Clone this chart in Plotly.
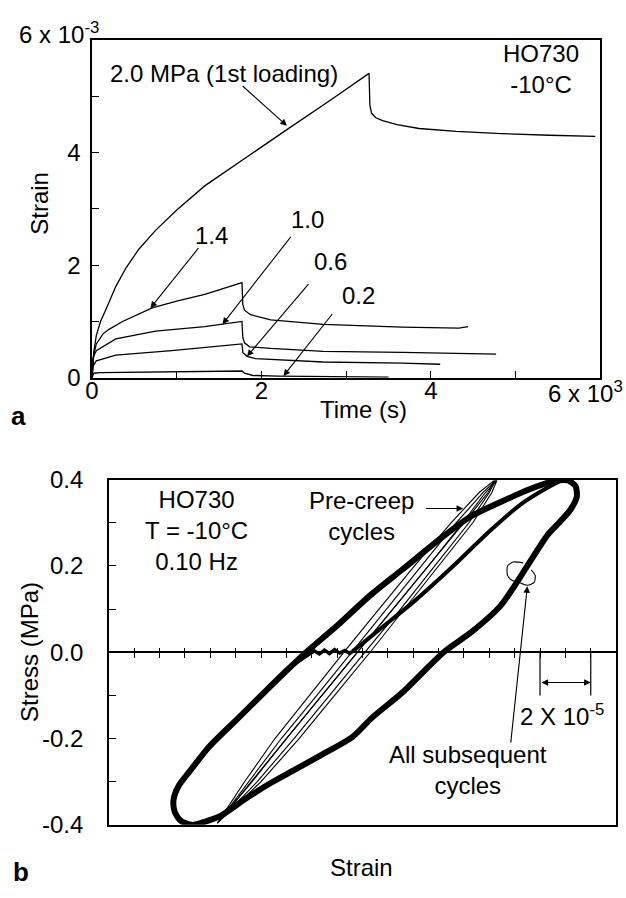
import plotly.graph_objects as go

FONT = "Liberation Sans, Arial, Helvetica, sans-serif"
FS = 24

# ---------------- panel a : creep strain vs time (t in 10^3 s, strain in 10^-3)
T20 = [0, 0.02, 0.05, 0.1, 0.16, 0.22, 0.28, 0.4, 0.55, 0.75, 1.0, 1.33, 1.8, 2.3, 2.8, 3.27,
       3.28, 3.3, 3.35, 3.43, 3.6, 3.86, 4.3, 4.83, 5.4, 5.94]
S20 = [0, 0.45, 0.75, 1.0, 1.2, 1.42, 1.62, 1.95, 2.28, 2.62, 2.98, 3.41, 3.9, 4.41, 4.92, 5.41,
       4.85, 4.7, 4.62, 4.57, 4.5, 4.43, 4.38, 4.34, 4.31, 4.29]
T14 = [0, 0.02, 0.05, 0.1, 0.13, 0.2, 0.36, 0.71, 1.0, 1.33, 1.77, 1.78, 1.8, 1.87, 2.11, 2.73, 3.66, 4.33, 4.44]
S14 = [0, 0.4, 0.6, 0.72, 0.78, 0.86, 1.0, 1.24, 1.36, 1.48, 1.69, 1.3, 1.2, 1.12, 1.03, 0.95, 0.9, 0.88, 0.91]
T10 = [0, 0.01, 0.05, 0.28, 0.75, 1.33, 1.77, 1.78, 1.8, 1.86, 2.11, 2.73, 3.66, 4.77]
S10 = [0, 0.35, 0.48, 0.69, 0.83, 0.91, 1.0, 0.72, 0.62, 0.55, 0.52, 0.47, 0.45, 0.42]
T06 = [0, 0.01, 0.05, 0.28, 0.94, 1.77, 1.78, 1.83, 1.93, 2.73, 3.66, 4.11]
S06 = [0, 0.2, 0.3, 0.4, 0.48, 0.6, 0.45, 0.38, 0.34, 0.28, 0.26, 0.24]
T02 = [0, 0.02, 0.1, 1.0, 1.77, 1.8, 1.9, 2.2, 2.6, 3.0, 3.5]
S02 = [0, 0.08, 0.09, 0.1, 0.12, 0.08, 0.04, 0.03, 0.02, 0.01, 0.01]

TOP_TICKVALS = [0, 1, 2, 3, 4, 5, 6]
TOP_X_TEXT = ["0", "", "2", "", "4", "", ""]
TOP_Y_TEXT = ["0", "", "2", "", "4", "", ""]

# ---------------- panel b : stress vs strain (strain in units of 10^-5, arbitrary origin)
LOOP_X = [3.27, 2.84, 2.6, 2.55, 2.75, 3.2, 3.97, 5.06, 6.11, 7.00,
          7.78, 9.03, 10.27, 11.56, 13.11, 14.28, 15.45, 16.61, 17.5, 18.1,
          18.4, 18.45, 18.2, 17.75, 17.3, 16.5, 15.45, 14.3, 13.2, 11.56,
          10.39, 9.61, 8.44, 7.28, 6.38, 5.33, 4.44, 3.77, 3.27]
LOOP_S = [-0.400, -0.391, -0.37, -0.342, -0.31, -0.275, -0.218, -0.155, -0.094, -0.043,
          0.0, 0.063, 0.130, 0.191, 0.265, 0.315, 0.348, 0.378, 0.396, 0.398,
          0.385, 0.36, 0.33, 0.3, 0.272, 0.2, 0.108, 0.047, 0.0, -0.094,
          -0.151, -0.196, -0.236, -0.274, -0.303, -0.342, -0.378, -0.393, -0.400]

RAMP_X = [9.61, 10.78, 12.06, 13.62, 15.06, 16.23, 17.2, 17.78]
RAMP_S = [0.002, 0.058, 0.119, 0.202, 0.283, 0.342, 0.378, 0.396]

REST_X = [6.89, 7.47, 7.94, 8.1, 8.3, 8.5, 8.7, 8.9, 9.1, 9.3, 9.5, 9.61]
REST_S = [-0.045, -0.022, -0.004, 0.003, -0.004, 0.005, -0.003, 0.006, -0.002, 0.004, -0.003, 0.002]

PRE_S = [-0.396, -0.3, -0.2, -0.1, 0.0, 0.1, 0.2, 0.3, 0.37, 0.398,
         0.37, 0.3, 0.2, 0.1, 0.0, -0.1, -0.2, -0.3, -0.396]
PRE_X1 = [4.28, 5.35, 6.55, 7.9, 9.27, 10.65, 12.05, 13.5, 14.6, 15.2,
          14.95, 14.0, 12.6, 11.2, 9.8, 8.4, 7.0, 5.65, 4.28]
PRE_X2 = [4.28, 5.5, 6.8, 8.2, 9.57, 10.95, 12.32, 13.7, 14.75, 15.25,
          15.0, 14.2, 12.85, 11.5, 10.1, 8.7, 7.3, 5.85, 4.28]
PRE_X3 = [4.28, 5.6, 7.0, 8.4, 9.8, 11.2, 12.6, 13.95, 14.85, 15.3,
          15.1, 14.35, 13.0, 11.65, 10.3, 8.9, 7.5, 6.0, 4.28]

BLIP_X = [16.34, 15.95, 15.72, 15.72, 15.91, 16.15, 16.50, 16.77, 16.81, 16.65]
BLIP_S = [0.207, 0.209, 0.200, 0.178, 0.166, 0.162, 0.155, 0.162, 0.178, 0.191]

BOT_Y_TICKVALS = [-0.4, -0.3, -0.2, -0.1, 0.0, 0.1, 0.2, 0.3, 0.4]
BOT_Y_TEXT = ["-0.4", "", "-0.2", "", "0.0", "", "0.2", "", "0.4"]
ZERO_TICKS = list(range(1, 20))

W, H = 626, 898

fig = go.Figure()


def line(x, y, w, xa="x", ya="y", shape="linear", color="black"):
    fig.add_trace(go.Scatter(x=x, y=y, mode="lines", xaxis=xa, yaxis=ya,
                             line=dict(color=color, width=w, shape=shape, smoothing=0.7),
                             hoverinfo="skip", showlegend=False))


for tx, sy in [(T20, S20), (T14, S14), (T10, S10), (T06, S06), (T02, S02)]:
    line(tx, sy, 1.3)

for px in [PRE_X1, PRE_X2, PRE_X3]:
    line(px, PRE_S, 1.1, "x2", "y2")
line(LOOP_X, LOOP_S, 6, "x2", "y2", shape="spline")
line(RAMP_X, RAMP_S, 4, "x2", "y2", shape="spline")
line(REST_X, REST_S, 3.5, "x2", "y2")
line(BLIP_X, BLIP_S, 1.1, "x2", "y2", shape="spline")
# dummy trace so the free tick axis on the zero line is drawn
fig.add_trace(go.Scatter(x=[None], y=[None], xaxis="x3", yaxis="y2", showlegend=False))


def px_x(p):
    return p / W


def px_y(p):
    return 1 - p / H


axis_common = dict(showgrid=False, zeroline=False, showline=True, mirror=True,
                   linecolor="black", linewidth=1.5, ticks="inside", ticklen=7,
                   tickwidth=1.3, tickcolor="black",
                   tickfont=dict(family=FONT, size=FS, color="black"))

fig.update_layout(
    width=W, height=H, margin=dict(l=0, r=0, t=0, b=0),
    paper_bgcolor="white", plot_bgcolor="white", showlegend=False,
    font=dict(family=FONT, size=FS, color="black"),
    xaxis=dict(domain=[px_x(86), px_x(600)], anchor="y", range=[0, 6],
               tickvals=TOP_TICKVALS, ticktext=TOP_X_TEXT, ticklabelstandoff=-9, **axis_common),
    yaxis=dict(domain=[px_y(375), px_y(27)], anchor="x", range=[0, 6],
               tickvals=TOP_TICKVALS, ticktext=TOP_Y_TEXT, ticklabelstandoff=5, **axis_common),
    xaxis2=dict(domain=[px_x(103), px_x(616)], anchor="y2", range=[0, 20],
                showticklabels=False, showgrid=False, zeroline=False, showline=True,
                mirror=True, linecolor="black", linewidth=1.5, ticks=""),
    yaxis2=dict(domain=[px_y(836), px_y(480)], anchor="x2", range=[-0.4, 0.4],
                tickvals=BOT_Y_TICKVALS, ticktext=BOT_Y_TEXT, ticklabelstandoff=19,
                **{**axis_common, "zeroline": True, "zerolinecolor": "black",
                   "zerolinewidth": 1.5}),
    xaxis3=dict(overlaying="x2", anchor="free", position=px_y(653), range=[0, 20],
                tickvals=ZERO_TICKS, ticks="outside", ticklen=10, tickwidth=1.3,
                tickcolor="black", showticklabels=False, showline=False,
                showgrid=False, zeroline=False),
)

ann = []


def text(x, y, t, xref="paper", yref="paper", xanchor="center", yanchor="middle",
         size=FS, angle=0, align="center"):
    ann.append(dict(x=x, y=y, xref=xref, yref=yref, text=t, showarrow=False,
                    xanchor=xanchor, yanchor=yanchor, textangle=angle, align=align,
                    font=dict(family=FONT, size=size, color="black")))


def arrow(x, y, ax, ay, xref="x", yref="y", side="end"):
    ann.append(dict(x=x, y=y, ax=ax, ay=ay, xref=xref, yref=yref, axref=xref, ayref=yref,
                    text="", showarrow=True, arrowhead=2, arrowsize=1.2, arrowwidth=1.1,
                    arrowcolor="black", arrowside=side, standoff=0, startstandoff=0))


# panel a texts
text(px_x(32), px_y(195), "Strain", angle=-90)
text(px_x(361), px_y(408), "Time (s)")
text(px_x(12), px_y(414), "<b>a</b>", size=26)
text(px_x(95), px_y(20), "6 x 10<sup>-3</sup>", xanchor="right")
text(px_x(625), px_y(390), "6 x 10<sup>3</sup>", xanchor="right")
text(0.19, 5.40, "2.0 MPa (1st loading)", "x", "y", xanchor="left")
text(5.30, 5.48, "HO730<br>-10°C", "x", "y")
text(1.41, 2.53, "1.4", "x", "y")
text(2.54, 2.81, "1.0", "x", "y")
text(2.81, 2.07, "0.6", "x", "y")
text(3.14, 1.47, "0.2", "x", "y")
arrow(2.30, 4.48, 1.76, 5.21)
arrow(0.69, 1.24, 1.27, 2.33)
arrow(1.54, 0.95, 2.36, 2.53)
arrow(1.83, 0.38, 2.57, 1.69)
arrow(2.26, 0.03, 2.85, 1.16)

# panel b texts
text(px_x(22), px_y(658), "Stress (MPa)", angle=-90)
text(px_x(359), px_y(880), "Strain")
text(px_x(14), px_y(885), "<b>b</b>", size=26)
text(3.46, 0.283, "HO730<br>T = -10°C<br>0.10 Hz", "x2", "y2")
text(9.96, 0.316, "Pre-creep<br>cycles", "x2", "y2")
text(14.16, -0.272, "All subsequent<br>cycles", "x2", "y2")
text(17.85, -0.146, "2 X 10<sup>-5</sup>", "x2", "y2")
arrow(13.97, 0.333, 12.45, 0.333, "x2", "y2")
arrow(16.5, 0.153, 15.84, -0.213, "x2", "y2")
arrow(19, -0.07, 17, -0.07, "x2", "y2", side="end+start")

fig.update_layout(annotations=ann)

shapes = []
for xs in [17, 19]:
    shapes.append(dict(type="line", xref="x2", yref="y2", x0=xs, x1=xs, y0=0, y1=-0.1,
                       line=dict(color="black", width=1.2)))
fig.update_layout(shapes=shapes)

# remove the browser's default 8px body margin so the figure fills the window exactly
fig.write_html("out.html", config={"displayModeBar": False},
               post_script="document.body.style.margin='0';document.body.style.overflow='hidden';")
